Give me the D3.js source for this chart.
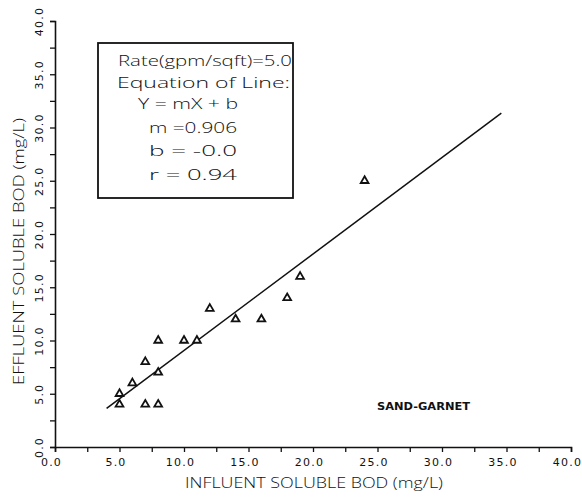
<!DOCTYPE html>
<html>
<head>
<meta charset="utf-8">
<script src="https://cdn.jsdelivr.net/npm/d3@7"></script>
<style>
  html, body { margin: 0; padding: 0; background: #fff; }
  svg { display: block; }
  text { font-family: "Open Sans", "DejaVu Sans", sans-serif; fill: #111; }
</style>
</head>
<body>
<svg id="chart" width="582" height="497"></svg>
<script>
// Influent vs effluent soluble BOD (mg/L), sand-garnet filter
const influent = [5, 5, 6, 7, 7, 8, 8, 8, 10, 11, 12, 14, 16, 18, 19, 24];
const effluent = [4, 5, 6, 4, 8, 4, 7, 10, 10, 10, 13, 12, 12, 14, 16, 25];

// Regression line Y = mX + b and its drawn extent
const slope = 0.906;
const intercept = -0.0;
const fitRange = [4, 34.6];

// Axis ticks (every 2.5, labelled every 5)
const tickValues = d3.range(0, 40.01, 2.5);
const labelValues = [0, 5, 10, 15, 20, 25, 30, 35, 40];

const statLines = [
  "Rate(gpm/sqft)=5.0",
  "Equation of Line:",
  "Y = mX + b",
  "m =0.906",
  "b = -0.0",
  "r = 0.94"
];

const xTitle = "INFLUENT SOLUBLE BOD (mg/L)";
const yTitle = "EFFLUENT SOLUBLE BOD (mg/L)";
const filterLabel = "SAND-GARNET";

const svg = d3.select("#chart");
const x = d3.scaleLinear().domain([0, 40]).range([55, 571]);
const y = d3.scaleLinear().domain([0, 40]).range([447, 21]);

const fmt = v => labelValues.includes(v) ? v.toFixed(1) : "";

// X axis
const gx = svg.append("g")
  .attr("transform", `translate(0,${y(0)})`)
  .call(d3.axisBottom(x).tickValues(tickValues).tickFormat(fmt).tickSizeOuter(0).tickSize(5));
gx.select(".domain").attr("stroke", "#111").attr("stroke-width", 1.6);
gx.selectAll(".tick line").attr("stroke", "#111").attr("stroke-width", 1.3);
gx.selectAll(".tick text")
  .attr("y", 11)
  .attr("dx", -4)
  .attr("font-size", 11)
  .attr("letter-spacing", 1.2)
  .style("font-family", "'DejaVu Sans', sans-serif");

// Y axis with rotated tick labels
const gy = svg.append("g")
  .attr("transform", `translate(${x(0)},0)`)
  .call(d3.axisLeft(y).tickValues(tickValues).tickFormat(fmt).tickSizeOuter(0).tickSize(5));
gy.select(".domain").attr("stroke", "#111").attr("stroke-width", 1.6);
gy.selectAll(".tick line").attr("stroke", "#111").attr("stroke-width", 1.3);
gy.selectAll(".tick text")
  .attr("x", null).attr("dy", null)
  .attr("transform", "translate(-12,0) rotate(-90)")
  .attr("text-anchor", "middle")
  .attr("font-size", 11)
  .attr("letter-spacing", 1.2)
  .style("font-family", "'DejaVu Sans', sans-serif");

// Axis titles
svg.append("text")
  .attr("x", 185).attr("y", 488)
  .attr("font-size", 14)
  .attr("font-weight", 300)
  .attr("textLength", 258).attr("lengthAdjust", "spacingAndGlyphs")
  .text(xTitle);

svg.append("text")
  .attr("transform", "translate(24,385) rotate(-90)")
  .attr("font-size", 14)
  .attr("font-weight", 300)
  .attr("textLength", 267).attr("lengthAdjust", "spacingAndGlyphs")
  .text(yTitle);

// Regression line
svg.append("line")
  .attr("x1", x(fitRange[0])).attr("y1", y(slope * fitRange[0] + intercept))
  .attr("x2", x(fitRange[1])).attr("y2", y(slope * fitRange[1] + intercept))
  .attr("stroke", "#111").attr("stroke-width", 1.5);

// Observations as open triangles
const tri = d3.symbol().type(d3.symbolTriangle).size(26);
svg.append("g").selectAll("path")
  .data(influent.map((v, i) => [v, effluent[i]]))
  .join("path")
  .attr("d", tri)
  .attr("transform", d => `translate(${x(d[0])},${y(d[1])})`)
  .attr("fill", "#fff").attr("stroke", "#111").attr("stroke-width", 1.8);

// Statistics box
svg.append("rect")
  .attr("x", 98).attr("y", 43).attr("width", 195).attr("height", 155)
  .attr("fill", "none").attr("stroke", "#111").attr("stroke-width", 1.8);

const lineLayout = [
  { x: 118, y: 66, len: 174 },
  { x: 117, y: 88, len: 173 },
  { x: 138, y: 109, len: 100 },
  { x: 149, y: 133, len: 88 },
  { x: 149, y: 156, len: 88 },
  { x: 149, y: 180, len: 88 }
];
svg.append("g").selectAll("text")
  .data(statLines)
  .join("text")
  .attr("x", (d, i) => lineLayout[i].x)
  .attr("y", (d, i) => lineLayout[i].y)
  .attr("font-size", 15)
  .attr("font-weight", 300)
  .attr("textLength", (d, i) => lineLayout[i].len)
  .attr("lengthAdjust", "spacingAndGlyphs")
  .text(d => d);

// Filter media label
svg.append("text")
  .attr("x", 377).attr("y", 410)
  .attr("font-size", 11).attr("font-weight", "bold")
  .style("font-family", "'DejaVu Sans', sans-serif")
  .attr("textLength", 93).attr("lengthAdjust", "spacingAndGlyphs")
  .text(filterLabel);
</script>
</body>
</html>
